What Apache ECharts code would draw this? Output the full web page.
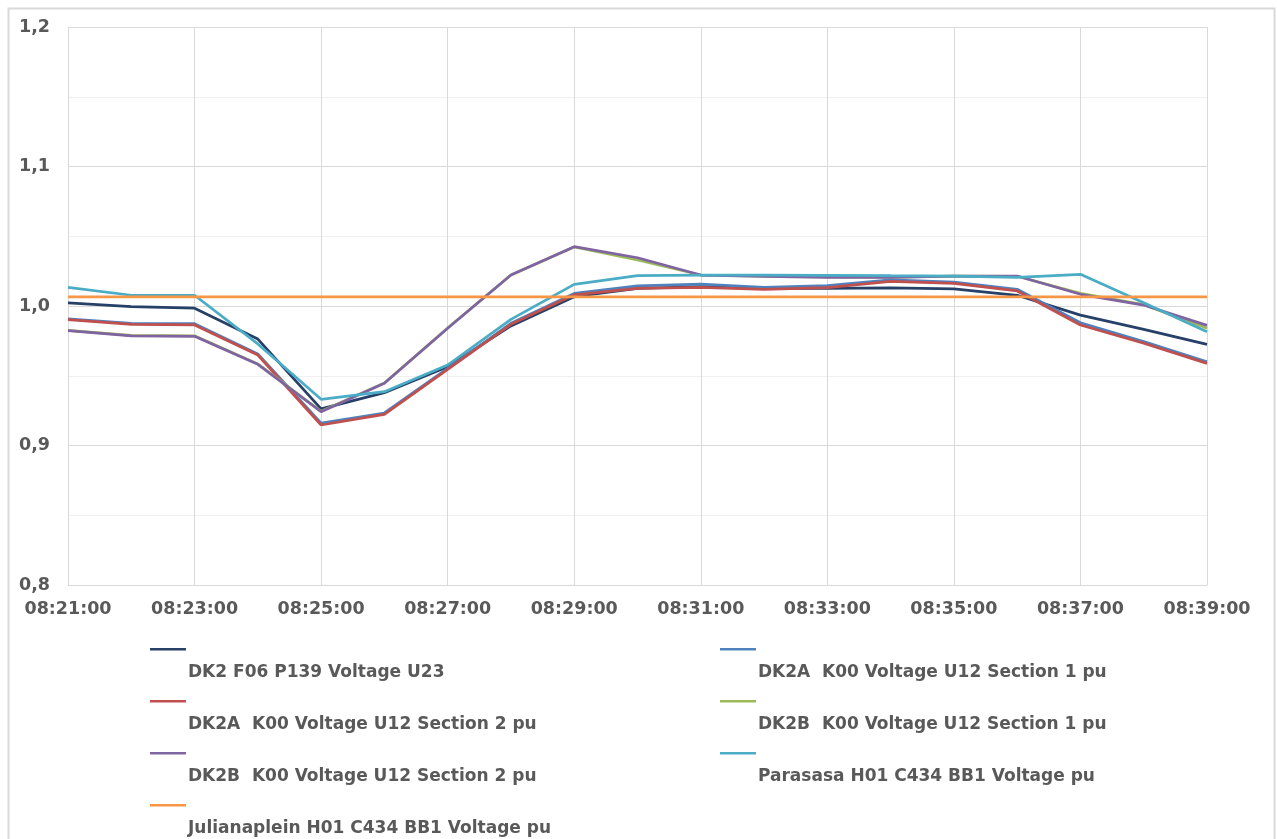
<!DOCTYPE html>
<html>
<head>
<meta charset="utf-8">
<script src="https://cdn.jsdelivr.net/npm/echarts@6/dist/echarts.min.js"></script>
<style>
html,body{margin:0;padding:0;background:#fff;}
#chart{width:1277px;height:839px;}
</style>
</head>
<body>
<div id="chart"></div>
<script>
const times = ['08:21:00','08:22:00','08:23:00','08:24:00','08:25:00','08:26:00','08:27:00','08:28:00','08:29:00','08:30:00','08:31:00','08:32:00','08:33:00','08:34:00','08:35:00','08:36:00','08:37:00','08:38:00','08:39:00'];

const seriesNames = [
  'DK2 F06 P139 Voltage U23',
  'DK2A  K00 Voltage U12 Section 1 pu',
  'DK2A  K00 Voltage U12 Section 2 pu',
  'DK2B  K00 Voltage U12 Section 1 pu',
  'DK2B  K00 Voltage U12 Section 2 pu',
  'Parasasa H01 C434 BB1 Voltage pu',
  'Julianaplein H01 C434 BB1 Voltage pu'
];

const dk2F06 = [1.0022,0.9995,0.9984,0.9763,0.9262,0.9379,0.9565,0.9857,1.0067,1.0127,1.0139,1.0127,1.0127,1.0130,1.0122,1.0077,0.9935,0.9833,0.9725];
const dk2aSec1 = [0.9907,0.9876,0.9873,0.9656,0.9160,0.9233,0.9553,0.9876,1.0090,1.0145,1.0156,1.0134,1.0146,1.0188,1.0172,1.0120,0.9880,0.9745,0.9600];
const dk2aSec2 = [0.9902,0.9869,0.9864,0.9649,0.9147,0.9223,0.9546,0.9869,1.0080,1.0127,1.0134,1.0120,1.0132,1.0177,1.0163,1.0108,0.9864,0.9733,0.9589];
const dk2bSec1 = [0.9826,0.9790,0.9786,0.9585,0.9245,0.9448,0.9842,1.0222,1.0423,1.0330,1.0222,1.0215,1.0208,1.0207,1.0215,1.0213,1.0091,1.0010,0.9840];
const dk2bSec2 = [0.9823,0.9785,0.9783,0.9582,0.9242,0.9446,0.9840,1.0222,1.0425,1.0346,1.0222,1.0213,1.0206,1.0206,1.0215,1.0215,1.0084,1.0007,0.9861];
const parasasa = [1.0134,1.0077,1.0077,0.9728,0.9331,0.9386,0.9577,0.9904,1.0155,1.0217,1.0222,1.0222,1.0220,1.0217,1.0215,1.0206,1.0227,1.0024,0.9816];
const julianaplein = [1.0065,1.0065,1.0065,1.0065,1.0065,1.0065,1.0065,1.0065,1.0065,1.0065,1.0065,1.0065,1.0065,1.0065,1.0065,1.0065,1.0065,1.0065,1.0065];

const seriesData = [dk2F06, dk2aSec1, dk2aSec2, dk2bSec1, dk2bSec2, parasasa, julianaplein];
const colors = ['#264068','#4F81BD','#C0504D','#9BBB59','#8064A2','#4BACC6','#F79646'];

const textColor = '#595959';
const fontFam = '"DejaVu Sans", Verdana, sans-serif';

const legendIcon = 'path://M0,0L36,0L36,2.5L0,2.5Z M0,50L0.05,50L0.05,50.05Z';
const legendCommon = {
  orient: 'vertical',
  itemWidth: 36,
  itemHeight: 50,
  itemGap: 2,
  padding: 0,
  height: 300,
  icon: legendIcon,
  selectedMode: false,
  textStyle: {color: textColor, fontSize: 17, fontWeight: 'bold', fontFamily: fontFam, padding: [0,0,0,-3]}
};

const chart = echarts.init(document.getElementById('chart'), null, {renderer: 'canvas'});
chart.setOption({
  animation: false,
  backgroundColor: '#fff',
  color: colors,
  graphic: [{
    type: 'rect', left: 6, top: 6, silent: true, z: -10,
    shape: {x: 0, y: 0, width: 1266, height: 900},
    style: {fill: 'none', stroke: '#d9d9d9', lineWidth: 2}
  }],
  grid: {left: 68, right: 70, top: 27, bottom: 254, containLabel: false},
  legend: [
    Object.assign({}, legendCommon, {left: 150, top: 648, data: [seriesNames[0], seriesNames[2], seriesNames[4], seriesNames[6]]}),
    Object.assign({}, legendCommon, {left: 720, top: 648, data: [seriesNames[1], seriesNames[3], seriesNames[5]]})
  ],
  xAxis: {
    type: 'category',
    data: times,
    boundaryGap: false,
    axisLine: {show: true, lineStyle: {color: '#d9d9d9', width: 1}},
    axisTick: {show: false},
    axisLabel: {interval: 1, color: textColor, fontSize: 17.5, fontWeight: 'bold', fontFamily: fontFam, margin: 15},
    splitLine: {show: true, interval: 1, lineStyle: {color: '#d9d9d9', width: 1}}
  },
  yAxis: {
    type: 'value',
    min: 0.8, max: 1.2, interval: 0.1,
    axisLine: {show: true, lineStyle: {color: '#d9d9d9', width: 1}},
    axisTick: {show: false},
    axisLabel: {color: textColor, fontSize: 17.5, fontWeight: 'bold', fontFamily: fontFam, margin: 18,
      formatter: v => v.toFixed(1).replace('.', ',')},
    splitLine: {show: true, lineStyle: {color: '#d9d9d9', width: 1}},
    minorTick: {show: false, splitNumber: 2},
    minorSplitLine: {show: true, lineStyle: {color: '#f0f0f0', width: 1}}
  },
  series: seriesNames.map((name, i) => ({
    name: name,
    type: 'line',
    data: seriesData[i],
    showSymbol: false,
    symbol: 'none',
    lineStyle: {width: 2.75, color: colors[i]},
    itemStyle: {color: colors[i]},
    z: 2 + i
  }))
});
</script>
</body>
</html>
